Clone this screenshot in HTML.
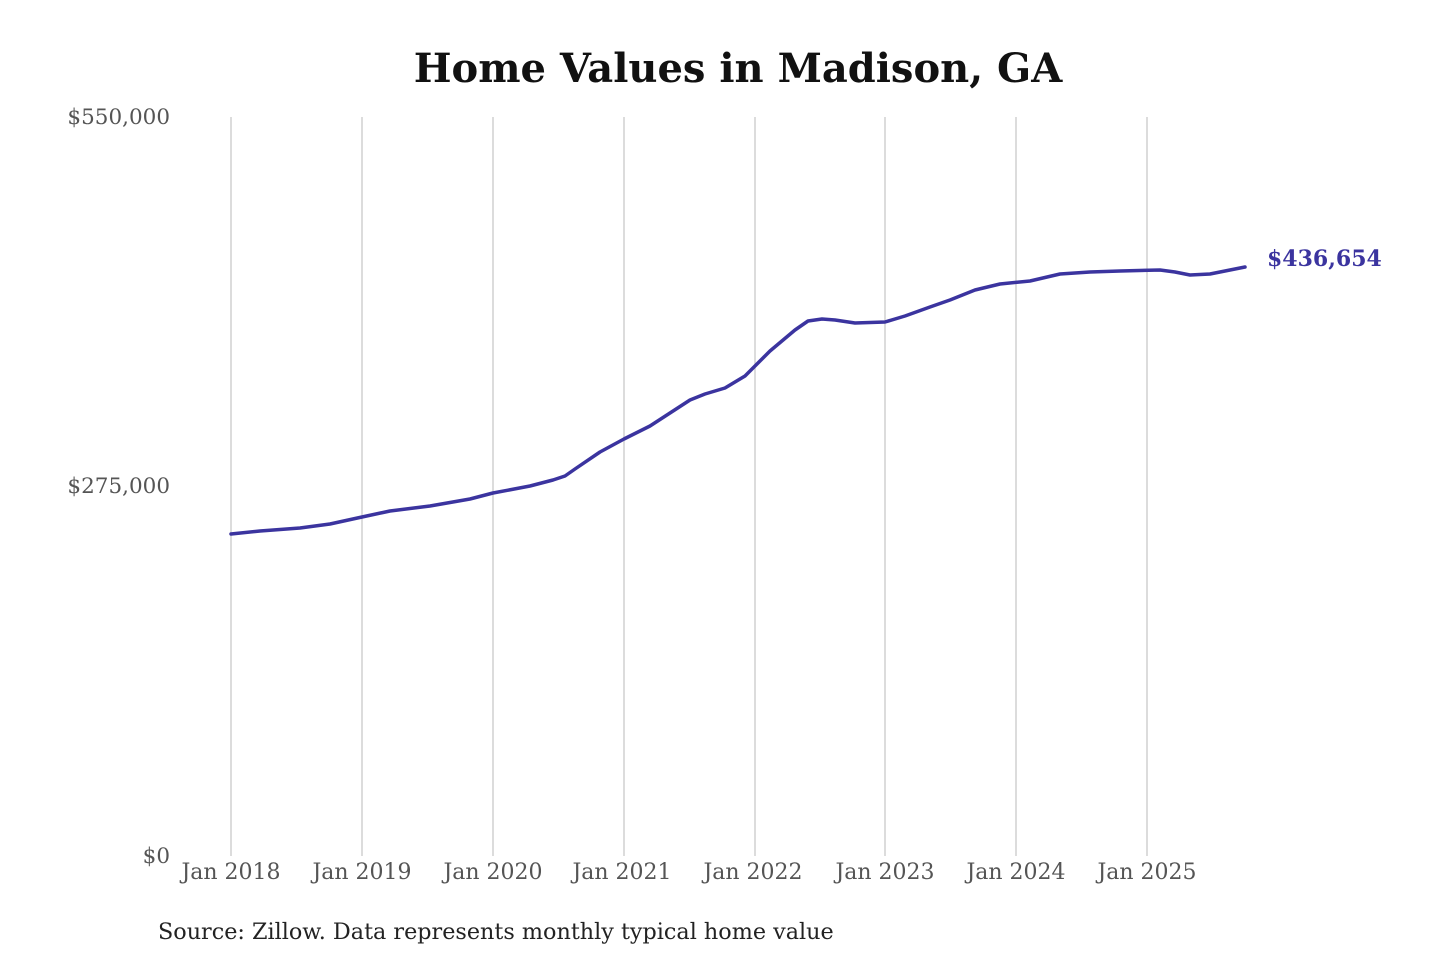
<!DOCTYPE html>
<html><head><meta charset="utf-8"><style>
html,body{margin:0;padding:0;background:#fff;}
svg{display:block;}
</style></head><body>
<svg width="1440" height="960" viewBox="0 0 1440 960" xmlns="http://www.w3.org/2000/svg" font-family="'DejaVu Serif','Liberation Serif',serif">
<rect width="1440" height="960" fill="#fff"/>
<text x="738" y="82" text-anchor="middle" font-size="40" font-weight="bold" fill="#111">Home Values in Madison, GA</text>
<g stroke="#c4c4c4" stroke-width="1.2">
<line x1="231" y1="117" x2="231" y2="856"/>
<line x1="362" y1="117" x2="362" y2="856"/>
<line x1="493" y1="117" x2="493" y2="856"/>
<line x1="624" y1="117" x2="624" y2="856"/>
<line x1="755" y1="117" x2="755" y2="856"/>
<line x1="885" y1="117" x2="885" y2="856"/>
<line x1="1016" y1="117" x2="1016" y2="856"/>
<line x1="1147" y1="117" x2="1147" y2="856"/>
</g>
<g font-size="21.5" fill="#555" text-anchor="end">
<text x="170" y="124">$550,000</text>
<text x="170" y="493">$275,000</text>
<text x="170" y="863">$0</text>
</g>
<g font-size="22" fill="#555" text-anchor="middle">
<text x="231" y="879">Jan 2018</text>
<text x="362" y="879">Jan 2019</text>
<text x="493" y="879">Jan 2020</text>
<text x="622" y="879">Jan 2021</text>
<text x="753" y="879">Jan 2022</text>
<text x="885" y="879">Jan 2023</text>
<text x="1016" y="879">Jan 2024</text>
<text x="1147" y="879">Jan 2025</text>
</g>
<polyline fill="none" stroke="#3b349f" stroke-width="3.5" stroke-linejoin="round" stroke-linecap="round"
points="231,534 260,531 300,528 330,524 362,517 390,511 430,506 470,499 493,493 530,486 553,480 565,476 575,469 600,452 624,439 650,426 670,413 690,400 705,394 725,388 745,376 770,351 795,330 808,321 822,319 835,320 855,323 885,322 905,316 930,307 950,300 975,290 1000,284 1030,281 1060,274 1090,272 1120,271 1160,270 1175,272 1190,275 1210,274 1245,267"/>
<text x="1267" y="266" font-size="22" font-weight="bold" fill="#3b349f">$436,654</text>
<text x="158" y="939" font-size="22.3" fill="#222">Source: Zillow. Data represents monthly typical home value</text>
</svg>
</body></html>
